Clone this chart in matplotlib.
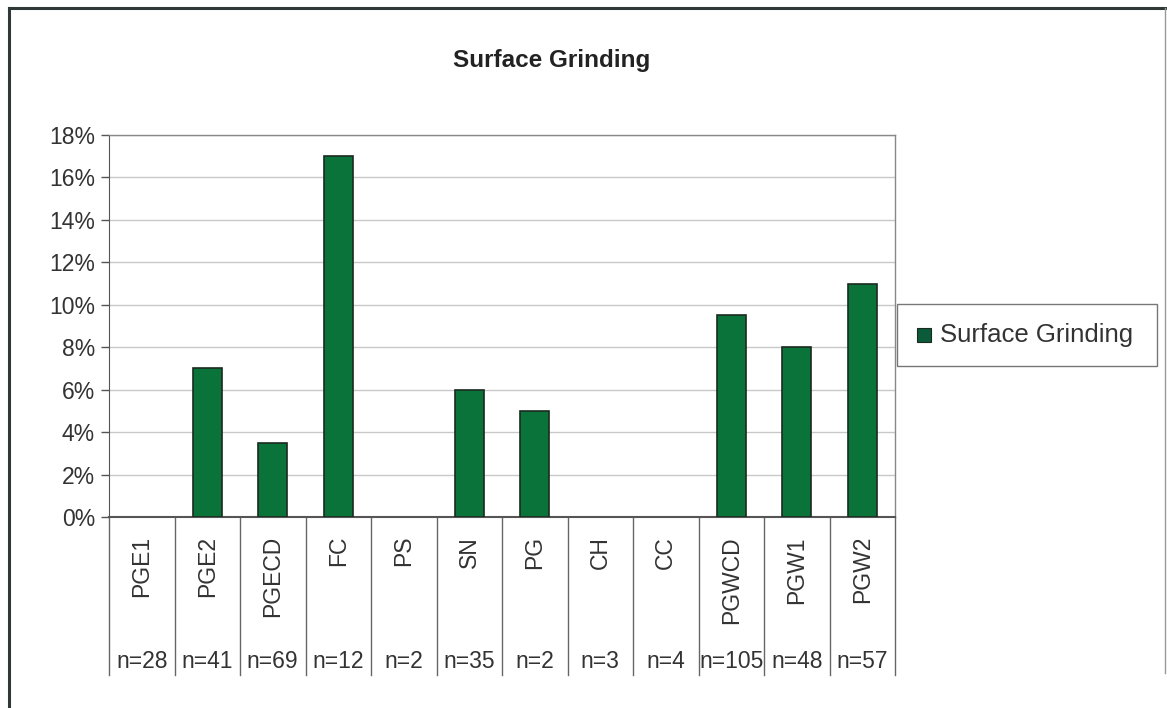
import matplotlib.pyplot as plt
from matplotlib.lines import Line2D
from matplotlib.patches import Rectangle
import matplotlib.transforms as mtransforms

plt.rcParams['font.family'] = ['Liberation Sans', 'DejaVu Sans']

categories = ['PGE1', 'PGE2', 'PGECD', 'FC', 'PS', 'SN', 'PG', 'CH', 'CC', 'PGWCD', 'PGW1', 'PGW2']
sample_sizes = ['n=28', 'n=41', 'n=69', 'n=12', 'n=2', 'n=35', 'n=2', 'n=3', 'n=4', 'n=105', 'n=48', 'n=57']
values = [0, 7, 3.5, 17, 0, 6, 5, 0, 0, 9.5, 8, 11]  # percent
y_ticks = [0, 2, 4, 6, 8, 10, 12, 14, 16, 18]

W, H = 1167, 708
fig = plt.figure(figsize=(W / 100, H / 100), dpi=100)
fig.patch.set_facecolor('white')

# outer chart frame
fig.add_artist(Line2D([9 / W, 9 / W], [0, 1 - 8 / H], color='#2f3a38', lw=2.2))
fig.add_artist(Line2D([9 / W, 1], [1 - 8 / H, 1 - 8 / H], color='#2f3a38', lw=2.2))
fig.add_artist(Line2D([1165 / W, 1165 / W], [0.05, 1 - 8 / H], color='#999999', lw=1.0))

# plot area in pixels: left 109, right 895, top 135, bottom 517
x0, x1, top, bot = 109, 895, 135, 517
ax = fig.add_axes([x0 / W, 1 - bot / H, (x1 - x0) / W, (bot - top) / H])

x = list(range(len(categories)))
bars = ax.bar(x, values, width=0.44, color='#0a7339', edgecolor='#1a2a20', linewidth=1.2,
              label='Surface Grinding', zorder=3)
for b, v in zip(bars, values):
    if v == 0:
        b.set_visible(False)

ax.set_xlim(-0.5, len(categories) - 0.5)
ax.set_ylim(0, 18)
ax.set_yticks(y_ticks)
ax.set_yticklabels([f'{t}%' for t in y_ticks], fontsize=16.5, color='#333333')
ax.yaxis.grid(True, color='#c8c8c8', lw=1.0, zorder=0)
ax.set_xticks([])
ax.tick_params(axis='y', length=6, width=1, color='#555555', pad=4)
for s in ['top', 'right']:
    ax.spines[s].set_color('#888888')
    ax.spines[s].set_linewidth(1.0)
ax.spines['left'].set_color('#555555')
ax.spines['bottom'].set_color('#555555')
ax.spines['bottom'].set_linewidth(1.5)

# category table below the axis
trans = mtransforms.blended_transform_factory(ax.transData, ax.transAxes)
sep_bottom = -(675 - bot) / (bot - top)
for i in range(len(categories) + 1):
    ax.add_line(Line2D([i - 0.5, i - 0.5], [0, sep_bottom], transform=trans,
                       color='#666666', lw=1.0, clip_on=False))
for i, (c, n) in enumerate(zip(categories, sample_sizes)):
    ax.text(i, -(536 - bot) / (bot - top), c, transform=trans, rotation=90,
            ha='center', va='top', fontsize=16.5, color='#333333')
    ax.text(i, -(662 - bot) / (bot - top), n, transform=trans,
            ha='center', va='center', fontsize=16.5, color='#333333')

fig.text(552 / W, 1 - 61 / H, 'Surface Grinding', ha='center', va='center',
         fontsize=17.5, fontweight='bold', color='#222222')

# legend box
fig.add_artist(Rectangle((897 / W, 1 - 366 / H), 260 / W, 62 / H, transform=fig.transFigure,
                         facecolor='white', edgecolor='#777777', lw=1.0))
fig.add_artist(Rectangle((917 / W, 1 - 342 / H), 14 / W, 14 / H, transform=fig.transFigure,
                         facecolor='#0b5a3a', edgecolor='#1a2a20', lw=0.8))
fig.text(940 / W, 1 - 335 / H, 'Surface Grinding', ha='left', va='center',
         fontsize=18.5, color='#333333')

fig.savefig('out.png', dpi=100)
